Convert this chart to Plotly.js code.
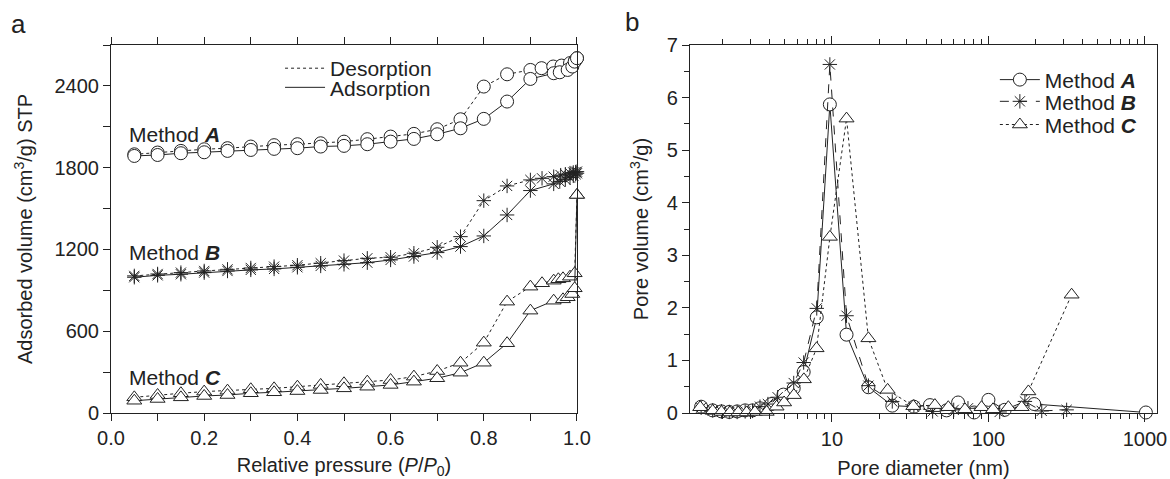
<!DOCTYPE html>
<html><head><meta charset="utf-8">
<script src="https://cdn.plot.ly/plotly-3.0.1.min.js"></script>
<style>html,body{margin:0;padding:0;background:#fff}#chart{width:1170px;height:479px}</style>
</head><body><div id="chart"></div>
<script>
// ---- Panel a: isotherms ----
const pA_ads = [0.05,0.1,0.15,0.2,0.25,0.3,0.35,0.4,0.45,0.5,0.55,0.6,0.65,0.7,0.75,0.8,0.85,0.9,0.95,0.963,0.98,0.99,0.995,1.0];
const vA_ads = [1886,1893,1906,1913,1923,1930,1938,1943,1955,1960,1972,1991,2011,2045,2089,2158,2285,2451,2493,2500,2517,2542,2578,2603];
const pA_des = [0.05,0.1,0.15,0.2,0.25,0.3,0.35,0.4,0.45,0.5,0.55,0.6,0.65,0.7,0.75,0.8,0.85,0.9,0.924,0.949,0.967,0.985,0.996,1.0];
const vA_des = [1898,1911,1923,1935,1943,1955,1965,1972,1979,1991,2009,2028,2048,2082,2155,2395,2485,2517,2530,2542,2549,2567,2586,2603];

const pB_ads = [0.05,0.1,0.15,0.2,0.25,0.3,0.35,0.4,0.45,0.5,0.55,0.6,0.65,0.7,0.75,0.8,0.85,0.9,0.95,0.963,0.975,0.985,0.992,0.997,1.0];
const vB_ads = [996,1010,1018,1030,1042,1050,1057,1069,1079,1091,1103,1123,1148,1177,1221,1299,1453,1632,1681,1698,1712,1727,1740,1752,1759];
const pB_des = [0.05,0.1,0.15,0.2,0.25,0.3,0.35,0.4,0.45,0.5,0.55,0.6,0.65,0.7,0.75,0.8,0.85,0.9,0.925,0.95,0.965,0.975,0.985,0.992,0.997,1.0];
const vB_des = [1006,1020,1030,1042,1054,1064,1074,1084,1099,1118,1135,1143,1172,1216,1294,1558,1666,1710,1722,1734,1745,1752,1760,1765,1768,1771];

const pC_ads = [0.05,0.1,0.15,0.2,0.25,0.3,0.35,0.4,0.45,0.5,0.55,0.6,0.65,0.7,0.75,0.8,0.85,0.9,0.95,0.97,0.98,0.99,0.995,1.0];
const vC_ads = [90,103,115,125,132,145,152,161,169,181,193,206,230,255,296,369,512,751,824,834,849,873,915,1600];
const pC_des = [0.05,0.1,0.15,0.2,0.25,0.3,0.35,0.4,0.45,0.5,0.55,0.6,0.65,0.7,0.75,0.8,0.85,0.9,0.925,0.95,0.96,0.97,0.985,0.995,1.0];
const vC_des = [115,132,145,157,164,174,181,193,206,218,230,242,267,308,369,516,817,927,952,971,981,988,1000,1025,1600];

// ---- Panel b: pore size distributions ----
const dA = [1.46,1.73,1.97,2.21,2.48,2.79,3.11,3.47,4.1,4.9,5.7,6.6,8.0,9.7,12.4,17.1,24.3,33.4,42.3,54,64,81,100,127,196,1014];
const pvA = [0.12,0.05,0.03,0.02,0.03,0.05,0.05,0.09,0.17,0.35,0.47,0.78,1.82,5.87,1.49,0.49,0.14,0.12,0.15,0.05,0.2,0.01,0.25,0.06,0.17,0.01];
const dB = [1.46,1.73,1.97,2.21,2.48,2.79,3.11,3.47,3.9,4.5,5.7,6.6,8.0,9.7,12.4,17.1,24.3,33.4,44,60,74,118,171,219,316];
const pvB = [0.1,0.05,0.03,0.02,0.02,0.03,0.04,0.12,0.17,0.3,0.57,0.96,1.99,6.63,1.85,0.52,0.22,0.12,0.03,0.06,0.09,0.02,0.22,0.04,0.06];
const dC = [1.44,1.73,1.97,2.23,2.52,2.85,3.22,3.83,4.43,4.95,5.71,6.62,7.98,9.71,12.4,17.1,22.7,33.1,45.5,55.4,70.8,90.3,107,134,163,180,340];
const pvC = [0.11,0.04,0.02,0.01,0.01,0.01,0.02,0.02,0.12,0.2,0.34,0.64,1.23,3.35,5.6,1.42,0.44,0.13,0.15,0.11,0.07,0.11,0.07,0.11,0.11,0.41,2.25];

const methodLabels = ['Method <b><i>A</i></b>','Method <b><i>B</i></b>','Method <b><i>C</i></b>'];
const branchLabels = ['Desorption', 'Adsorption'];
const labelY = [2040, 1174, 264];

const INK = '#222';
const FONT = '"Liberation Sans", Arial, Helvetica, sans-serif';
const TICK = 20, TITLE = 20, LABEL = 21;

function mk(symbol, size){
  return {symbol: symbol, size: size, color: '#fff', line: {color: INK, width: 1}};
}
const starMk = {symbol: 'asterisk-open', size: 12, color: INK, line: {color: INK, width: 1}};
function iso(x, y, dash, symbol){
  return {x: x, y: y, xaxis: 'x', yaxis: 'y', mode: 'lines+markers', showlegend: false,
    cliponaxis: false, line: {color: INK, width: 1, dash: dash},
    marker: symbol === 'asterisk-open' ? starMk : mk(symbol, 13),
    hoverinfo: 'skip'};
}

const traces = [
  iso(pA_des, vA_des, 'dot', 'circle'),
  iso(pA_ads, vA_ads, 'solid', 'circle'),
  iso(pB_des, vB_des, 'dot', 'asterisk-open'),
  iso(pB_ads, vB_ads, 'solid', 'asterisk-open'),
  iso(pC_des, vC_des, 'dot', 'triangle-up'),
  iso(pC_ads, vC_ads, 'solid', 'triangle-up'),
  {x: [null], y: [null], xaxis: 'x', yaxis: 'y', mode: 'lines', name: branchLabels[0], legend: 'legend',
   line: {color: INK, width: 1, dash: 'dot'}},
  {x: [null], y: [null], xaxis: 'x', yaxis: 'y', mode: 'lines', name: branchLabels[1], legend: 'legend2',
   line: {color: INK, width: 1, dash: 'solid'}},
  {x: dA, y: pvA, xaxis: 'x2', yaxis: 'y2', mode: 'lines+markers', name: methodLabels[0], legend: 'legend3',
   cliponaxis: false, line: {color: INK, width: 1, dash: 'solid'}, marker: mk('circle', 13)},
  {x: dB, y: pvB, xaxis: 'x2', yaxis: 'y2', mode: 'lines+markers', name: methodLabels[1], legend: 'legend4',
   cliponaxis: false, line: {color: INK, width: 1, dash: 'dash'}, marker: starMk},
  {x: dC, y: pvC, xaxis: 'x2', yaxis: 'y2', mode: 'lines+markers', name: methodLabels[2], legend: 'legend5',
   cliponaxis: false, line: {color: INK, width: 1, dash: 'dot'}, marker: mk('triangle-up', 13)}
];

const axBase = {showline: true, linecolor: INK, linewidth: 1, showgrid: false, zeroline: false,
  ticks: 'outside', ticklen: 7, tickwidth: 1, tickcolor: INK,
  tickfont: {family: FONT, size: TICK, color: INK}};

function leg(x, y){
  return {x: x, y: y, xanchor: 'left', yanchor: 'middle', bgcolor: 'rgba(0,0,0,0)',
    font: {family: FONT, size: LABEL, color: INK}, itemwidth: 40};
}

const layout = {
  width: 1170, height: 479,
  margin: {l: 111, r: 13, t: 45, b: 66},
  paper_bgcolor: '#fff', plot_bgcolor: '#fff',
  font: {family: FONT, size: TITLE, color: INK},
  showlegend: true,
  xaxis: Object.assign({}, axBase, {domain: [0, 0.4455], range: [0, 1], dtick: 0.2, tick0: 0, tickformat: '.1f',
    mirror: 'ticks', minor: {dtick: 0.1, ticks: 'outside', ticklen: 7, tickcolor: INK},
    title: {text: 'Relative pressure (<i>P</i>/<i>P</i><sub>0</sub>)', font: {size: TITLE}, standoff: 11}}),
  yaxis: Object.assign({}, axBase, {domain: [0, 1], range: [0, 2700], dtick: 600, tick0: 0,
    mirror: true, minor: {dtick: 300, ticks: 'outside', ticklen: 7, tickcolor: INK},
    title: {text: 'Adsorbed volume (cm<sup>3</sup>/g) STP', font: {size: TITLE}, standoff: 16}}),
  xaxis2: Object.assign({}, axBase, {domain: [0.5535, 1], anchor: 'y2', type: 'log', range: [0.093, 3.077],
    tickvals: [10, 100, 1000], ticktext: ['10', '100', '1000'], ticklen: 8,
    mirror: 'ticks', minor: {dtick: 'D1', ticks: 'outside', ticklen: 5, tickcolor: INK},
    title: {text: 'Pore diameter (nm)', font: {size: TITLE}, standoff: 11}}),
  yaxis2: Object.assign({}, axBase, {domain: [0, 1], anchor: 'x2', range: [0, 7], dtick: 1, tick0: 0,
    mirror: true, minor: {dtick: 0.5, ticks: 'outside', ticklen: 5, tickcolor: INK},
    title: {text: 'Pore volume (cm<sup>3</sup>/g)', font: {size: TITLE}, standoff: 12}}),
  legend: leg(0.1616, 0.936),
  legend2: leg(0.1616, 0.884),
  legend3: leg(0.845, 0.905),
  legend4: leg(0.845, 0.846),
  legend5: leg(0.845, 0.783),
  annotations: [
    {text: methodLabels[0], x: 0.034, y: labelY[0], xref: 'x', yref: 'y', xanchor: 'left', yanchor: 'middle', showarrow: false, font: {size: LABEL}},
    {text: methodLabels[1], x: 0.034, y: labelY[1], xref: 'x', yref: 'y', xanchor: 'left', yanchor: 'middle', showarrow: false, font: {size: LABEL}},
    {text: methodLabels[2], x: 0.034, y: labelY[2], xref: 'x', yref: 'y', xanchor: 'left', yanchor: 'middle', showarrow: false, font: {size: LABEL}},
    {text: 'a', x: -0.0889, y: 1.057, xref: 'paper', yref: 'paper', xanchor: 'center', yanchor: 'middle', showarrow: false, font: {size: 26}},
    {text: 'b', x: 0.498, y: 1.0625, xref: 'paper', yref: 'paper', xanchor: 'center', yanchor: 'middle', showarrow: false, font: {size: 26}}
  ]
};

Plotly.newPlot('chart', traces, layout, {displayModeBar: false, staticPlot: true});
</script>
</body></html>
